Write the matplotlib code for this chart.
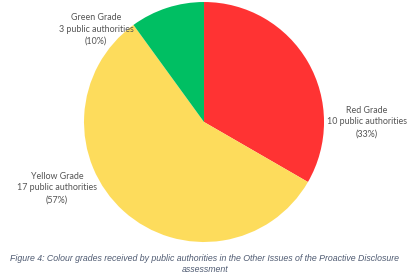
import matplotlib
matplotlib.use("Agg")
import matplotlib.pyplot as plt

grades = ["Red Grade", "Yellow Grade", "Green Grade"]
counts = [10, 17, 3]
percents = ["33%", "57%", "10%"]
colors = ["#FF3333", "#FDDC5C", "#00BF63"]
caption = ("Figure 4: Colour grades received by public authorities in the Other Issues of the Proactive Disclosure\n"
           "assessment")

fig = plt.figure(figsize=(4.10, 2.79), dpi=100)
ax = fig.add_axes([0.2049, 0.1326, 0.5854, 0.8602])
ax.pie(counts, colors=colors, startangle=90, counterclock=False, radius=1.25,
       wedgeprops=dict(linewidth=0))
ax.set_xlim(-1.25, 1.25)
ax.set_ylim(-1.25, 1.25)
ax.set_aspect("equal")
ax.axis("off")

label_pos = [(367 / 410, 1 - 122 / 279), (57 / 410, 1 - 188 / 279), (96 / 410, 1 - 29 / 279)]
for g, c, p, (x, y) in zip(grades, counts, percents, label_pos):
    fig.text(x, y, f"{g}\n{c} public authorities\n({p})", ha="center", va="center",
             fontsize=6.4, color="#555555", family="Lato", linespacing=1.4)

fig.text(0.5, 1 - 264 / 279, caption, ha="center", va="center", fontsize=6.3,
         style="italic", color="#4F5B72", family="Liberation Sans", linespacing=1.3)

fig.savefig("out.png", dpi=100, facecolor="white")
